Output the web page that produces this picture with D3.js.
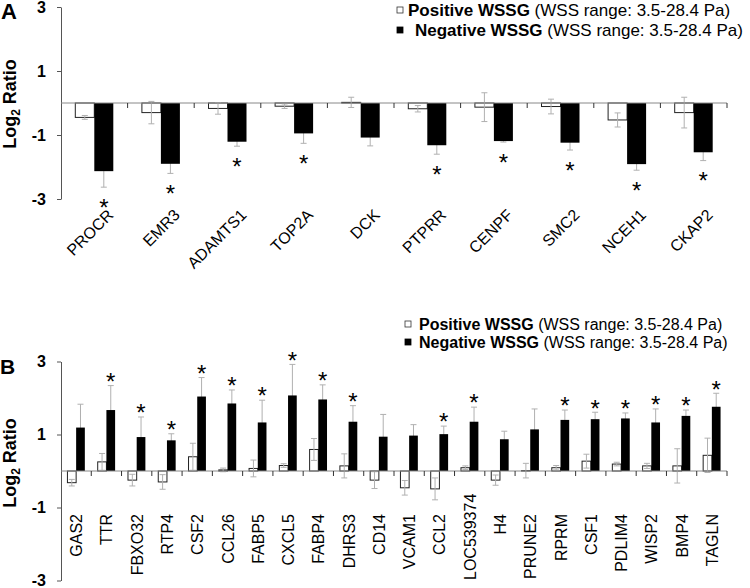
<!DOCTYPE html>
<html><head><meta charset="utf-8">
<script src="https://cdn.jsdelivr.net/npm/d3@7"></script>
<style>
body{margin:0;background:#fff}
svg{display:block;font-family:Arial,"Liberation Sans",sans-serif}
</style>
</head><body>
<svg id="c" width="750" height="588"></svg>
<script>
// ---------- Panel A data ----------
const catsA = ["PROCR","EMR3","ADAMTS1","TOP2A","DCK","PTPRR","CENPF","SMC2","NCEH1","CKAP2"];
const posA = [-0.45,-0.30,-0.17,-0.10,0.02,-0.18,-0.13,-0.11,-0.53,-0.30];
const posErrA = [0.06,0.35,0.18,0.07,0.16,0.10,0.45,0.23,0.22,0.48];
const negA = [-2.13,-1.90,-1.21,-0.95,-1.08,-1.32,-1.19,-1.24,-1.91,-1.54];
const negErrA = [0.50,0.30,0.14,0.31,0.26,0.28,0.03,0.23,0.19,0.26];
const sigA = [1,1,1,1,0,1,1,1,1,1];

// ---------- Panel B data ----------
const catsB = ["GAS2","TTR","FBXO32","RTP4","CSF2","CCL26","FABP5","CXCL5","FABP4","DHRS3","CD14","VCAM1","CCL2","LOC539374","H4","PRUNE2","RPRM","CSF1","PDLIM4","WISP2","BMP4","TAGLN"];
const posB = [-0.32,0.25,-0.25,-0.30,0.39,0.03,0.07,0.15,0.59,0.14,-0.25,-0.46,-0.49,0.09,-0.25,0.01,0.09,0.27,0.19,0.14,0.14,0.43];
const posErrB = [0.09,0.23,0.16,0.20,0.37,0.05,0.23,0.05,0.30,0.33,0.23,0.20,0.30,0.05,0.14,0.20,0.06,0.19,0.05,0.07,0.47,0.47];
const negB = [1.19,1.67,0.93,0.84,2.04,1.85,1.33,2.07,1.96,1.35,0.94,0.97,1.01,1.35,0.87,1.14,1.40,1.42,1.44,1.33,1.51,1.76];
const negErrB = [0.64,0.67,0.55,0.18,0.52,0.37,0.61,0.85,0.40,0.44,0.61,0.30,0.22,0.40,0.22,0.56,0.27,0.19,0.15,0.37,0.16,0.37];
const sigB = [0,1,1,1,1,1,1,1,1,1,0,0,1,1,0,0,1,1,1,1,1,1];

// ---------- shared ----------
const yTicks = [-3,-1,1,3];
const yDomain = [-3,3];
const legendBold = ["Positive WSSG","Negative WSSG"];
const legendNote = " (WSS range: 3.5-28.4 Pa)";

const svg = d3.select("#c");

function panel(o){
  const g = svg.append("g");
  const x = d3.scaleBand().domain(o.cats).range([o.x0,o.x1]).paddingInner(0).paddingOuter(0);
  const y = d3.scaleLinear().domain(yDomain).range([o.yBot,o.yTop]);
  const bw = o.barW;
  const data = o.cats.map((c,i)=>({c,i,pos:o.pos[i],pe:o.posErr[i],neg:o.neg[i],ne:o.negErr[i],sig:o.sig[i]}));
  const cx = d => x(d.c) + x.bandwidth()/2;

  // y axis
  const ax = g.append("g").attr("transform",`translate(${o.x0},0)`)
    .call(d3.axisLeft(y).tickValues(yTicks).tickSize(4).tickSizeOuter(0).tickPadding(11).tickFormat(d=>String(d)));
  ax.attr("color","#555");
  ax.selectAll("text").attr("fill","#000").style("font-size","16px").style("font-weight","bold")
    .style("font-family","Arial, 'Liberation Sans', sans-serif");

  function errBar(sel, xf, v, e, color){
    sel.each(function(d){
      const s = d3.select(this);
      const xm = xf(d), yv = v(d), ee = e(d);
      const y1 = y(yv+ee), y2 = y(yv-ee);
      s.append("line").attr("x1",xm).attr("x2",xm).attr("y1",y1).attr("y2",y2).attr("stroke",color).attr("stroke-width",1);
      s.append("line").attr("x1",xm-3).attr("x2",xm+3).attr("y1",y1).attr("y2",y1).attr("stroke",color).attr("stroke-width",1);
      s.append("line").attr("x1",xm-3).attr("x2",xm+3).attr("y1",y2).attr("y2",y2).attr("stroke",color).attr("stroke-width",1);
    });
  }
  const errColor = "#b0b0b0";
  g.append("g").selectAll("g").data(data).join("g")
    .call(errBar, d=>cx(d)+bw/2, d=>d.neg, d=>d.ne, errColor);
  g.append("g").selectAll("rect").data(data).join("rect")
    .attr("x",d=>cx(d)-bw).attr("width",bw)
    .attr("y",d=>y(Math.max(0,d.pos))).attr("height",d=>Math.abs(y(d.pos)-y(0)))
    .attr("fill","#fff").attr("stroke","#222").attr("stroke-width",1);
  g.append("g").selectAll("rect").data(data).join("rect")
    .attr("x",d=>cx(d)).attr("width",bw)
    .attr("y",d=>y(Math.max(0,d.neg))).attr("height",d=>Math.abs(y(d.neg)-y(0)))
    .attr("fill","#000");
  g.append("g").selectAll("g").data(data).join("g")
    .call(errBar, d=>cx(d)-bw/2, d=>d.pos, d=>d.pe, errColor);

  // zero line + category ticks
  g.append("line").attr("x1",o.x0).attr("x2",o.x1).attr("y1",y(0)).attr("y2",y(0)).attr("stroke","#888").attr("stroke-width",1);
  g.append("g").selectAll("line").data(data).join("line")
    .attr("x1",d=>x(d.c)+x.bandwidth()).attr("x2",d=>x(d.c)+x.bandwidth())
    .attr("y1",y(0)).attr("y2",y(0)+5).attr("stroke","#333").attr("stroke-width",1);

  // asterisks
  g.append("g").selectAll("text").data(data.filter(d=>d.sig)).join("text")
    .attr("x",d=>cx(d)+bw/2)
    .attr("y",d=> (o.starBelow ? y(d.neg-d.ne)+o.starOff : y(d.neg+d.ne)-o.starOff) + 13.8)
    .attr("text-anchor","middle").style("font-size","24px").text("*");

  // category labels
  const lab = g.append("g").selectAll("text").data(data).join("text")
    .style("font-size",o.labSize+"px").attr("text-anchor","end").text(d=>d.c);
  if(o.rot45){
    lab.attr("transform",d=>`translate(${cx(d)+o.labDx},${o.labY}) rotate(-45)`);
  } else {
    lab.attr("transform",function(d){
      const L = this.getComputedTextLength();
      const top = Math.min(o.labY, o.labMaxY - L);
      return `translate(${cx(d)+o.labDx},${top}) rotate(-90)`;
    });
  }

  // axis title
  const t = g.append("text").attr("transform",`translate(${o.titleX},${o.titleY}) rotate(-90)`)
    .attr("text-anchor","middle").style("font-size","18px").style("font-weight","bold");
  t.append("tspan").text("Log");
  t.append("tspan").text("2").style("font-size","12px").attr("dy",4);
  t.append("tspan").text(" Ratio").attr("dy",-4);

  // panel letter
  g.append("text").attr("x",o.letterX).attr("y",o.letterY).style("font-size",o.letterSize+"px").style("font-weight","bold").text(o.letter);

  // legend
  o.legRows.forEach((r,i)=>{
    g.append("rect").attr("x",o.legSqX).attr("y",r.sqY).attr("width",6).attr("height",6)
      .attr("fill", i===0 ? "#fff" : "#000").attr("stroke", i===0 ? "#333" : "#000").attr("stroke-width",0.8);
    const tx = g.append("text").attr("x",r.tx).attr("y",r.ty).style("font-size",o.legSize+"px");
    tx.append("tspan").style("font-weight","bold").text(legendBold[i]);
    tx.append("tspan").text(legendNote);
  });
}

panel({cats:catsA,pos:posA,posErr:posErrA,neg:negA,negErr:negErrA,sig:sigA,
  x0:61,x1:727,yTop:7,yBot:199,barW:19,starBelow:true,starOff:15,
  rot45:true,labSize:16,labDx:20,labY:216,
  titleX:16,titleY:104,letter:"A",letterX:1,letterY:19,letterSize:22,
  legSqX:397,legSize:17,legRows:[{sqY:7,tx:408,ty:16},{sqY:27,tx:415,ty:36}]});

panel({cats:catsB,pos:posB,posErr:posErrB,neg:negB,negErr:negErrB,sig:sigB,
  x0:61,x1:727,yTop:361.5,yBot:580.5,barW:8.7,starBelow:false,starOff:9.5,
  rot45:false,labSize:16,labDx:6,labY:514,labMaxY:580,
  titleX:16,titleY:463,letter:"B",letterX:0,letterY:374,letterSize:21,
  legSqX:405,legSize:16,legRows:[{sqY:321,tx:419,ty:330},{sqY:339,tx:419,ty:348}]});
</script>
</body></html>
